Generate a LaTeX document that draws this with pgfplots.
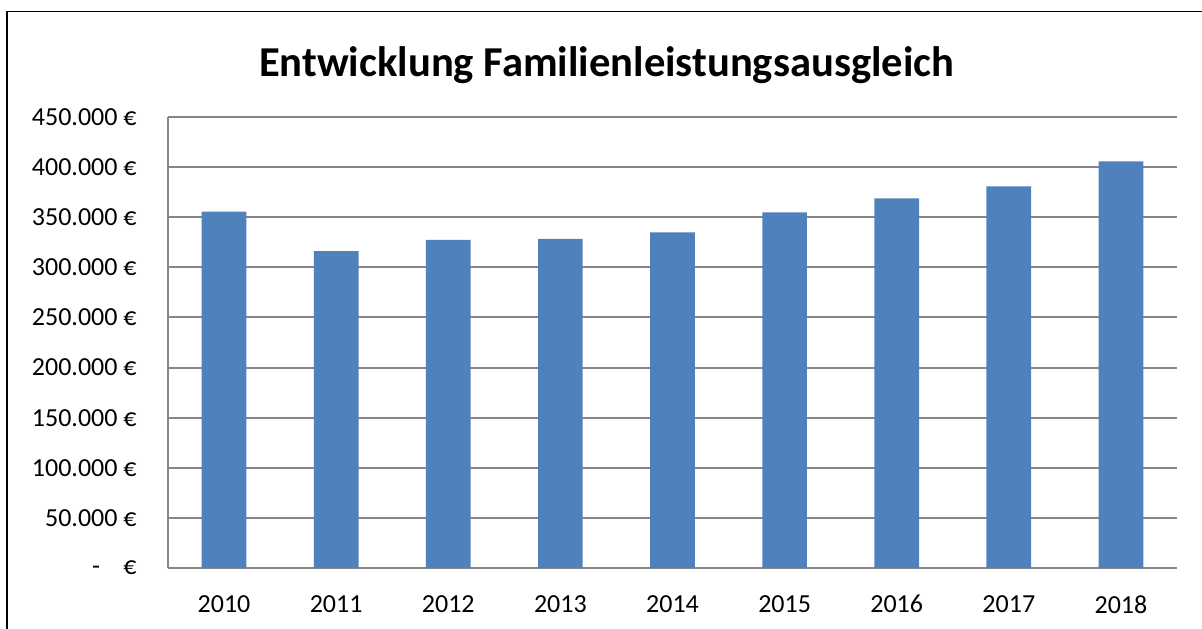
\documentclass[border=0pt]{standalone}
\usepackage{fontspec}
\setmainfont{Carlito}
\usepackage{pgfplots}
\pgfplotsset{compat=1.18}
\definecolor{barblue}{RGB}{79,129,189}
\definecolor{gridgray}{RGB}{134,134,134}

\begin{document}
\begin{tikzpicture}[x=1pt,y=1pt]
\useasboundingbox (0,0) rectangle (601,314);
% outer chart frame (cut off at right and bottom)
\draw[line width=0.9pt] (3.5,-5) -- (3.5,308.2) -- (610,308.2);
\node[font=\bfseries\fontsize{21.3}{24}\selectfont, anchor=base, inner sep=0pt]
  at (303.3,276) {Entwicklung Familienleistungsausgleich};
\begin{axis}[
  at={(84pt,30pt)}, anchor=south west,
  scale only axis, width=504.5pt, height=225.5pt,
  xmin=-0.5, xmax=8.5,
  ymin=0, ymax=450000,
  xtick={0,...,8},
  xticklabels={2010,2011,2012,2013,2014,2015,2016,2017,2018},
  ytick={0,50000,...,450000},
  yticklabels={{-\hspace{0.9em}€},50.000 €,100.000 €,150.000 €,200.000 €,250.000 €,300.000 €,350.000 €,400.000 €,450.000 €},
  scaled y ticks=false,
  axis lines*=left,
  axis line style={-, draw=gridgray, line width=1pt},
  ymajorgrids,
  grid style={draw=gridgray, line width=1pt},
  major tick length=0pt,
  tick style={draw=none},
  tick label style={font=\fontsize{13}{15}\selectfont, inner sep=0pt},
  yticklabel style={anchor=east, xshift=-15.5pt},
  xticklabel style={anchor=north, yshift=-13.5pt},
]
\addplot[ybar, bar width=22.35pt, fill=barblue, draw=none] coordinates {
  (0,355500) (1,316300) (2,327300) (3,328300) (4,335000)
  (5,354900) (6,368900) (7,380900) (8,405800)
};
\end{axis}
\end{tikzpicture}
\end{document}
